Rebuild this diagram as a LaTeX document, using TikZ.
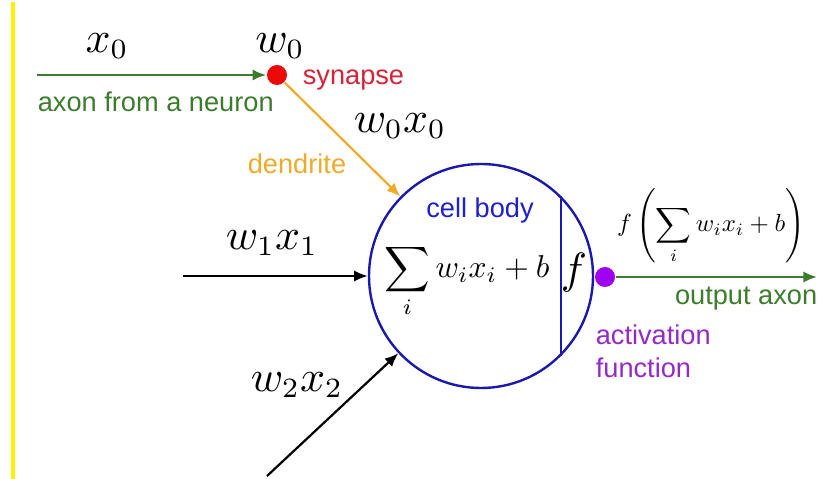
\documentclass[tikz,border=0pt]{standalone}
\usepackage{fontspec}
\setsansfont{Liberation Sans}
\usetikzlibrary{arrows.meta}
\definecolor{axgreen}{RGB}{60,125,45}
\definecolor{synred}{RGB}{235,10,10}
\definecolor{syntext}{RGB}{215,35,55}
\definecolor{dendorange}{RGB}{240,170,40}
\definecolor{cellblue}{RGB}{25,25,175}
\definecolor{celltext}{RGB}{30,30,210}
\definecolor{actpurple}{RGB}{160,0,240}
\definecolor{acttext}{RGB}{150,40,200}
\tikzset{
  lbl/.style={font=\sffamily\fontsize{6.8}{8}\selectfont, inner sep=0pt},
  mlbl/.style={font=\fontsize{10.5}{12}\selectfont, inner sep=0pt},
  conn/.style={line width=0.55pt, -{Latex[length=3.4pt,width=2.8pt]}},
  dot/.style={circle, inner sep=0pt, minimum size=5pt},
}
\begin{document}
\begin{tikzpicture}[x=0.25pt,y=-0.25pt]
\useasboundingbox (0,0) rectangle (821,479);
\fill[yellow] (11,2) rectangle (15,479);
% synapse
\node[dot, fill=synred] (syn) at (277,75) {};
\coordinate (in0) at (37,75);
\draw[conn, axgreen] (in0) -- (syn);
\node[mlbl] (x0) at (107,46) {$x_0$};
\node[mlbl] (w0) at (280,46) {$w_0$};
\node[lbl, text=syntext, anchor=west] (synl) at (302,80) {synapse};
\node[lbl, text=axgreen, anchor=west] (axl) at (37,102) {axon from a neuron};
\node[mlbl] (w0x0) at (400,126) {$w_0x_0$};
\node[lbl, text=dendorange] (dendl) at (297,164) {dendrite};
% cell
\node[circle, draw=cellblue, line width=0.6pt, minimum size=56pt, inner sep=0pt] (cell) at (481,276) {};
\draw[cellblue, line width=0.6pt] (cell.45) -- (cell.-45);
\node[lbl, text=celltext] (cbl) at (480,210) {cell body};
\node[inner sep=0pt] (sum) at (467,281) {\scalebox{0.79}{$\displaystyle\sum_i w_ix_i+b$}};
\node[inner sep=0pt, font=\fontsize{11}{13}\selectfont] (fl) at (574,273) {$f$};
\draw[conn, dendorange] (syn) -- (cell);
% inputs
\coordinate (in1) at (183,276);
\draw[conn, black] (in1) -- (cell);
\node[mlbl] (w1x1) at (272,243) {$w_1x_1$};
\coordinate (in2) at (267,476);
\draw[conn, black] (in2) -- (cell);
\node[mlbl] (w2x2) at (297,385) {$w_2x_2$};
% output
\node[dot, fill=actpurple] (act) at (605,277) {};
\coordinate (out) at (817,277);
\draw[conn, axgreen] (act) -- (out);
\node[inner sep=0pt] (fout) at (711,226) {\scalebox{0.62}{$f\left(\displaystyle\sum_i w_ix_i+b\right)$}};
\node[lbl, text=axgreen, anchor=east] (outl) at (818,299) {output axon};
\node[lbl, text=acttext, anchor=north west, align=left, font=\sffamily\fontsize{6.8}{8.2}\selectfont] (actl) at (595,324) {activation\\function};
\end{tikzpicture}
\end{document}
